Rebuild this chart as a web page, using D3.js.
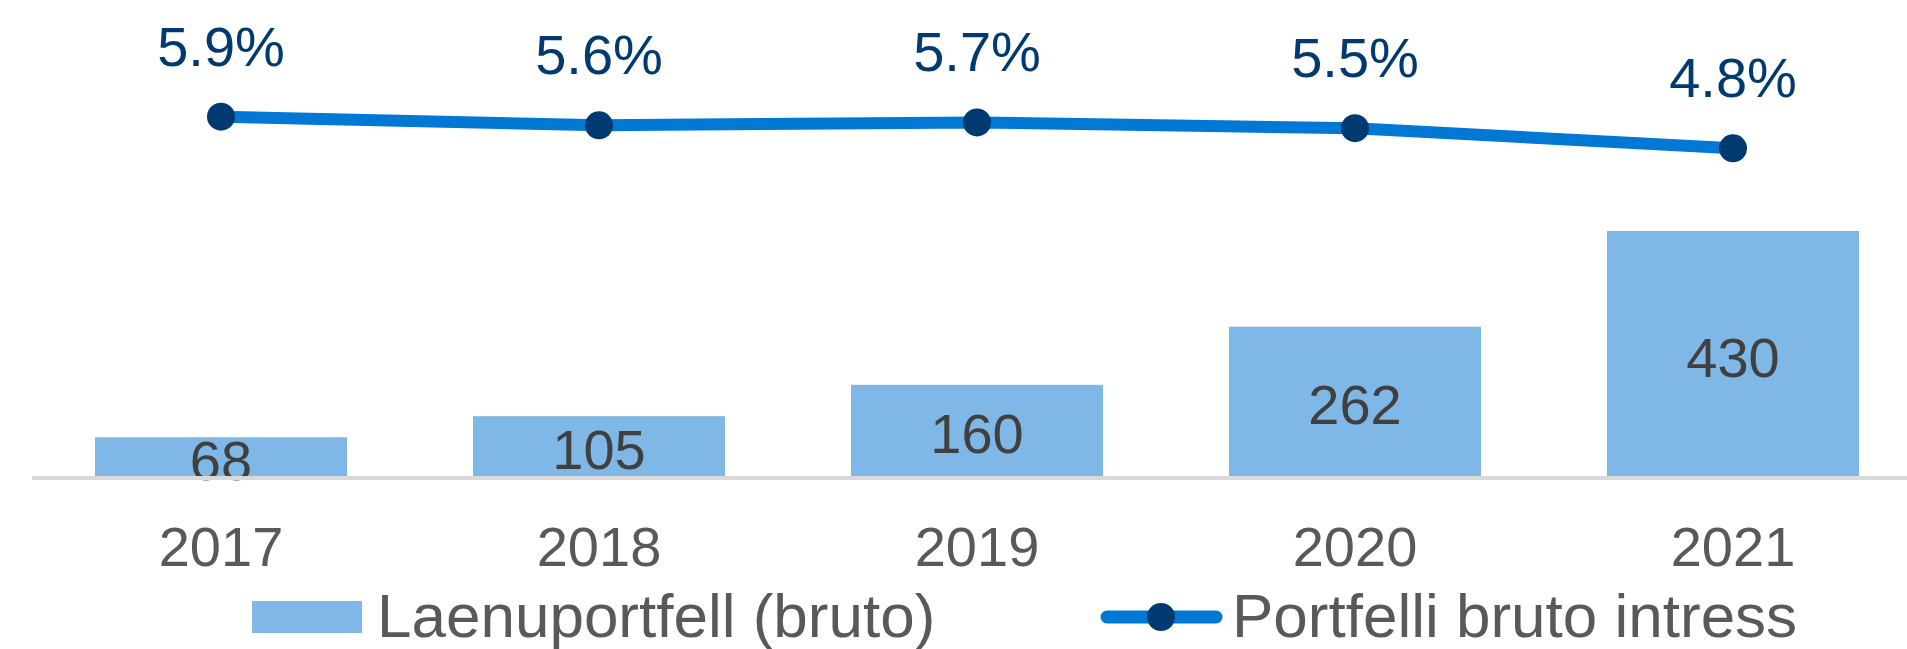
<!DOCTYPE html>
<html>
<head>
<meta charset="utf-8">
<script src="https://cdn.jsdelivr.net/npm/d3@7"></script>
<style>
  body { margin: 0; background: #fff; }
  svg { display: block; font-family: "Liberation Sans", Arial, sans-serif; }
</style>
</head>
<body>
<div id="chart"></div>
<script>
const years = ["2017", "2018", "2019", "2020", "2021"];
const portfolio = [68, 105, 160, 262, 430];
const rates = [5.9, 5.6, 5.7, 5.5, 4.8];
const rateLabels = ["5.9%", "5.6%", "5.7%", "5.5%", "4.8%"];
const legendNames = ["Laenuportfell (bruto)", "Portfelli bruto intress"];

const width = 1907, height = 649;
const barColor = "#7FB8E6";
const lineColor = "#0078D4";
const dotColor = "#003A70";

const svg = d3.select("#chart").append("svg")
    .attr("width", width)
    .attr("height", height);

const x = d3.scaleBand()
    .domain(years)
    .range([32, 1922])
    .paddingInner(1 / 3)
    .paddingOuter(1 / 6);

const y = d3.scaleLinear()
    .domain([0, 430])
    .range([476, 231]);

// secondary scale for the interest line
const y2 = d3.scaleLinear()
    .domain([4.8, 5.9])
    .range([148.3, 116.7]);

// bars
svg.selectAll("rect.bar")
    .data(portfolio)
    .enter()
    .append("rect")
    .attr("class", "bar")
    .attr("x", (d, i) => x(years[i]))
    .attr("y", d => y(d))
    .attr("width", x.bandwidth())
    .attr("height", d => y(0) - y(d))
    .attr("fill", barColor);

// bar labels
svg.selectAll("text.barlabel")
    .data(portfolio)
    .enter()
    .append("text")
    .attr("class", "barlabel")
    .attr("x", (d, i) => x(years[i]) + x.bandwidth() / 2)
    .attr("y", d => (y(d) + y(0)) / 2 + 23)
    .attr("text-anchor", "middle")
    .attr("font-size", 56)
    .attr("fill", "#404040")
    .text(d => d);

// category axis
const axis = svg.append("g")
    .attr("transform", `translate(0,${y(0)})`)
    .call(d3.axisBottom(x).tickSize(0).tickPadding(0));
axis.select(".domain").remove();
axis.append("line")
    .attr("x1", 32).attr("x2", width)
    .attr("y1", 2).attr("y2", 2)
    .attr("stroke", "#D9D9D9")
    .attr("stroke-width", 4);
axis.selectAll(".tick text")
    .attr("y", 90)
    .attr("dy", null)
    .attr("font-size", 56)
    .attr("font-family", "Liberation Sans, Arial, sans-serif")
    .attr("fill", "#595959");

// interest line
const cx = (d, i) => x(years[i]) + x.bandwidth() / 2;
const line = d3.line()
    .x(cx)
    .y(d => y2(d));

svg.append("path")
    .datum(rates)
    .attr("d", line)
    .attr("fill", "none")
    .attr("stroke", lineColor)
    .attr("stroke-width", 12)
    .attr("stroke-linejoin", "round");

svg.selectAll("circle.dot")
    .data(rates)
    .enter()
    .append("circle")
    .attr("class", "dot")
    .attr("cx", cx)
    .attr("cy", d => y2(d))
    .attr("r", 14)
    .attr("fill", dotColor);

svg.selectAll("text.ratelabel")
    .data(rates)
    .enter()
    .append("text")
    .attr("class", "ratelabel")
    .attr("x", cx)
    .attr("y", d => y2(d) - 51)
    .attr("text-anchor", "middle")
    .attr("font-size", 56)
    .attr("fill", dotColor)
    .text((d, i) => rateLabels[i]);

// legend
const legend = svg.append("g");
legend.append("rect")
    .attr("x", 252).attr("y", 601)
    .attr("width", 110).attr("height", 32)
    .attr("fill", barColor);
legend.append("text")
    .attr("x", 377).attr("y", 637)
    .attr("font-size", 62)
    .attr("fill", "#595959")
    .text(legendNames[0]);

legend.append("line")
    .attr("x1", 1107).attr("x2", 1216)
    .attr("y1", 617).attr("y2", 617)
    .attr("stroke", lineColor)
    .attr("stroke-width", 13)
    .attr("stroke-linecap", "round");
legend.append("circle")
    .attr("cx", 1161).attr("cy", 617)
    .attr("r", 14)
    .attr("fill", dotColor);
legend.append("text")
    .attr("x", 1232).attr("y", 637)
    .attr("font-size", 62)
    .attr("fill", "#595959")
    .text(legendNames[1]);
</script>
</body>
</html>
